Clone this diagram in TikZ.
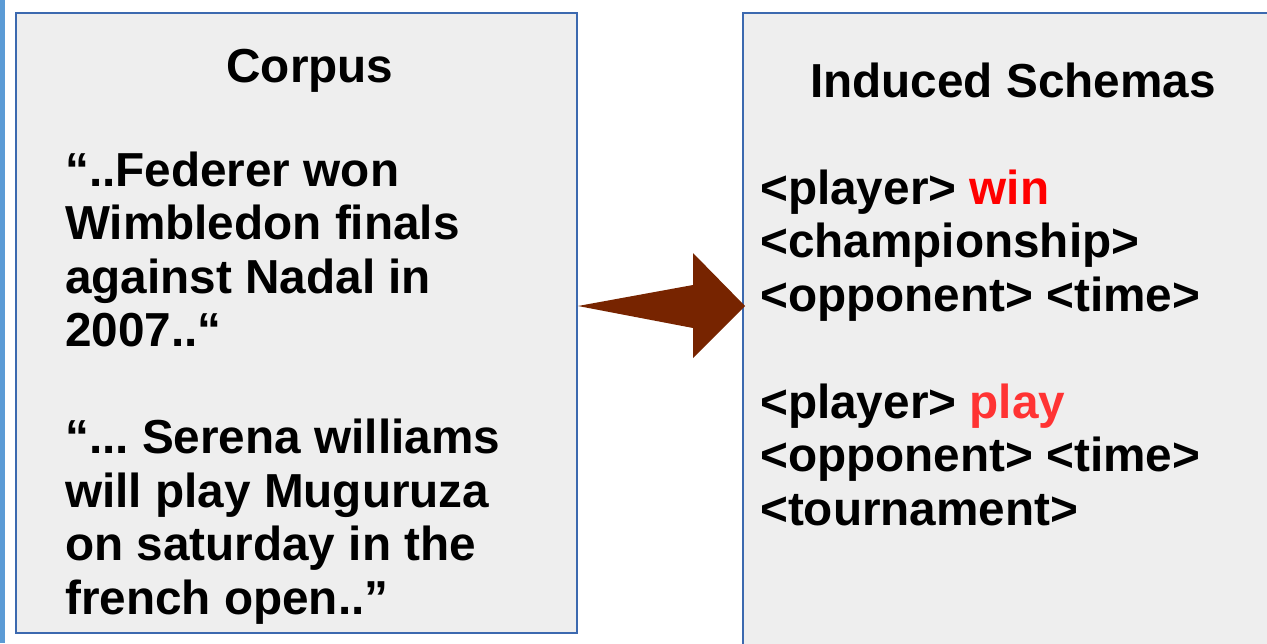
\documentclass[tikz,border=0pt]{standalone}
\usepackage{fontspec}
\setmainfont{Liberation Sans}
\usetikzlibrary{calc}
\frenchspacing

\definecolor{framblue}{RGB}{60,105,175}
\definecolor{panelgray}{RGB}{238,238,238}
\definecolor{barblue}{RGB}{91,155,213}
\definecolor{arrowbrown}{RGB}{119,36,0}
\definecolor{winred}{RGB}{255,0,0}
\definecolor{playred}{RGB}{255,51,51}

\begin{document}
\begin{tikzpicture}[
    x=1pt, y=-1pt,
    panel/.style={draw=framblue, line width=1.6pt, fill=panelgray, anchor=north west, inner sep=0pt},
    heading/.style={anchor=base, inner sep=0pt, font=\fontsize{47.7}{53.5}\selectfont\bfseries},
    body/.style={anchor=base west, inner sep=0pt, align=left, font=\fontsize{47.7}{53.5}\selectfont\bfseries},
    bigarrow/.style={fill=arrowbrown}
]
    \useasboundingbox (0,0) rectangle (1267,643);
    \clip (0,0) rectangle (1267,643);

    % Blue strip on the left edge
    \fill[barblue] (0,0) rectangle (5,643);

    % Panels
    \node[panel, minimum width=561pt, minimum height=620pt] (corpus) at (15,12) {};
    \node[panel, minimum width=560pt, minimum height=680pt] (schemas) at (742,12) {};

    % Left panel - sentences (anchored on the last line)
    \node[heading] (corpustitle) at (310,82) {Corpus};
    \node[body] (sentences) at (65,614) {“..Federer won\\Wimbledon finals\\against Nadal in\\2007..“\\[53.5pt]“... Serena williams\\will play Muguruza\\on saturday in the\\french open..”};

    % Right panel - schemas
    \node[heading] (schematitle) at (1013,97) {Induced Schemas};
    \node[body] (schemalist) at (760,525) {<player> \textcolor{winred}{win}\\<championship>\\<opponent> <time>\\[53.5pt]<player> \textcolor{playred}{play}\\<opponent> <time>\\<tournament>};

    % Block arrow between the panels
    \coordinate (tail) at (578,306);
    \coordinate (tip) at (745,306);
    \fill[bigarrow] (tail) -- ($(tip)+(-52,-21)$) -- ($(tip)+(-52,-53)$) -- (tip)
        -- ($(tip)+(-52,52)$) -- ($(tip)+(-52,22)$) -- cycle;
\end{tikzpicture}
\end{document}
